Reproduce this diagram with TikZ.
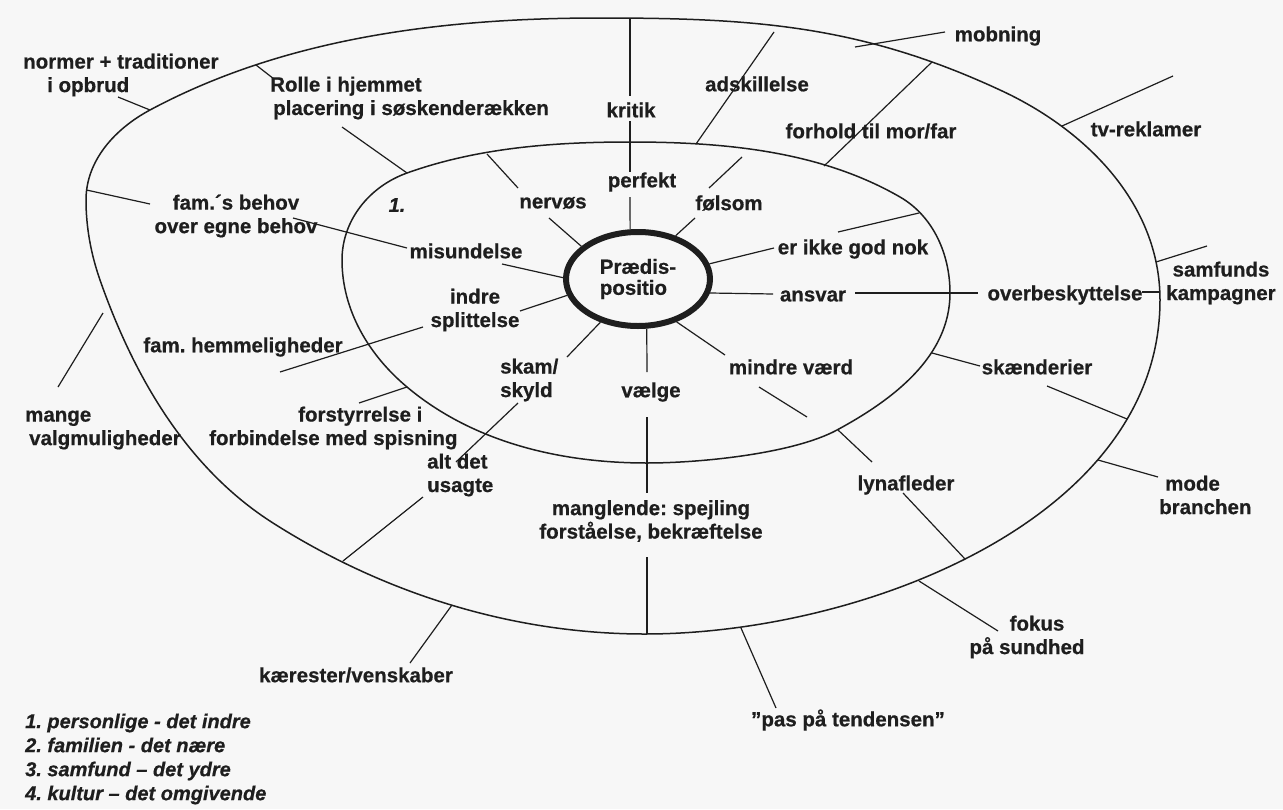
\documentclass[tikz,border=0pt]{standalone}
\usepackage{fontspec}
\setmainfont{Liberation Sans}[BoldFeatures={FakeBold=0.6},BoldItalicFeatures={FakeBold=0.6}]
\usetikzlibrary{shapes.geometric}
\definecolor{ink}{RGB}{30,30,30}
\definecolor{paper}{RGB}{247,247,247}
\begin{document}
\frenchspacing
\begin{tikzpicture}[x=1pt,y=-1pt,
  lbl/.style={font=\fontsize{20.5}{23.5}\selectfont\bfseries, text=ink, inner sep=0pt, align=center},
  lblL/.style={lbl, align=left, anchor=west},
  legend/.style={font=\fontsize{20}{24}\selectfont\bfseries\itshape, text=ink, inner sep=0pt, align=left, anchor=west},
  con/.style={draw=ink, line width=1.2pt},
  ring/.style={draw=ink, line width=1.5pt},
]
\fill[paper] (0,0) rectangle (1283,809);
\useasboundingbox (0,0) rectangle (1283,809);

% outer ring
\draw[ring] (600,18) .. controls (754,18) and (860.3,25.2) .. (1000,90)
  .. controls (1087,130) and (1160,204.5) .. (1160,300)
  .. controls (1160,520) and (860,634) .. (645,634)
  .. controls (513,634) and (384.4,593.8) .. (273,523)
  .. controls (186.9,468.3) and (133.8,376.3) .. (100,280)
  .. controls (91,254.2) and (86,227.3) .. (86,200)
  .. controls (86,160.4) and (115.1,128.7) .. (150,110)
  .. controls (286.4,36.9) and (445.2,18) .. (600,18) -- cycle;
% inner ring
\draw[ring] (630,142) .. controls (722.9,142) and (819.5,150.5) .. (900,197)
  .. controls (933.4,216.3) and (950,254.4) .. (950,293)
  .. controls (950,356.7) and (893,399.7) .. (837,430)
  .. controls (793,453.8) and (700,463) .. (647,463)
  .. controls (560.7,463) and (473.1,442.5) .. (407,387)
  .. controls (368.6,354.8) and (342,310.1) .. (342,260)
  .. controls (342,220.1) and (369.5,186.4) .. (407,173)
  .. controls (478,147.6) and (554.6,142) .. (630,142) -- cycle;

% centre
\node[ellipse, draw=ink, line width=6pt, minimum width=144pt, minimum height=94pt, inner sep=0pt,
      font=\fontsize{20.5}{21}\selectfont\bfseries, text=ink, align=left] (P) at (638,279) {Prædis-\\positio};

% labels
\node[lblL] (normer) at (23,75) {normer + traditioner\\\hspace*{24pt}i opbrud};
\node[lblL] (rolle) at (270,98) {Rolle i hjemmet\\\hspace*{3pt}placering i søskenderækken};
\node[lbl] (kritik) at (631,110) {kritik};
\node[lbl] (adsk) at (757,84) {adskillelse};
\node[lbl] (mobn) at (998,36) {mobning};
\node[lbl] (tvrek) at (1146,129) {tv-reklamer};
\node[lbl] (forhold) at (871,131) {forhold til mor/far};
\node[lbl] (behov) at (236,216) {fam.´s behov\\over egne behov};
\node[legend, anchor=center] (one) at (397,205) {1.};
\node[lbl] (nervos) at (553,203) {nervøs};
\node[lbl] (perfekt) at (642,182) {perfekt};
\node[lbl] (folsom) at (729,203) {følsom};
\node[lbl] (misund) at (466,251) {misundelse};
\node[lbl] (erikke) at (853,249) {er ikke god nok};
\node[lbl] (indre) at (475,310) {indre\\splittelse};
\node[lbl] (ansvar) at (813,296) {ansvar};
\node[lbl] (overb) at (1065,295) {overbeskyttelse};
\node[lbl] (samf) at (1221,283) {samfunds\\kampagner};
\node[lbl] (famhem) at (243,347) {fam. hemmeligheder};
\node[lblL] (skam) at (500,380) {skam/\\skyld};
\node[lbl] (vaelge) at (651,392) {vælge};
\node[lbl] (mindre) at (791,367) {mindre værd};
\node[lbl] (skaend) at (1037,367) {skænderier};
\node[lblL] (mange) at (25,430) {mange\\\hspace*{4pt}valgmuligheder};
\node[lblL] (forst) at (209,428) {\hspace*{89pt}forstyrrelse i\\forbindelse med spisning};
\node[lblL] (altdet) at (427,475) {alt det\\usagte};
\node[lbl] (mangl) at (651,521) {manglende: spejling\\forståelse, bekræftelse};
\node[lbl] (lyn) at (906,485) {lynafleder};
\node[lblL] (mode) at (1159,495) {\hspace*{6pt}mode\\branchen};
\node[lbl] (fokus) at (1027,637) {\hspace*{20pt}fokus\\på sundhed};
\node[lbl] (kaer) at (356,675) {kærester/venskaber};
\node[lbl] (pas) at (848,720) {”pas på tendensen”};
\node[legend] (leg) at (25,759) {1. personlige - det indre\\2. familien - det nære\\3. samfund – det ydre\\4. kultur – det omgivende};

% connector end points
\coordinate (a1) at (118,97);  \coordinate (a2) at (150,110);
\coordinate (b1) at (256,65);  \coordinate (b2) at (274,79);
\coordinate (c1) at (342,127); \coordinate (c2) at (407,173);
\coordinate (k1) at (630,18);  \coordinate (k2) at (630,96);
\coordinate (k3) at (630,121); \coordinate (k4) at (630,172);
\coordinate (k5) at (630,197);
\coordinate (d1) at (774,32);  \coordinate (d2) at (696,144);
\coordinate (e1) at (855,47);  \coordinate (e2) at (945,32);
\coordinate (f1) at (932,62);  \coordinate (f2) at (824,166);
\coordinate (g1) at (1062,126); \coordinate (g2) at (1173,76);
\coordinate (h1) at (86.5,190);  \coordinate (h2) at (150,204);
\coordinate (i1) at (293,218); \coordinate (i2) at (407,248);
\coordinate (j1) at (487,154); \coordinate (j2) at (518,188);
\coordinate (l1) at (549,218);
\coordinate (m1) at (742,157); \coordinate (m2) at (709,188);
\coordinate (n1) at (695,218);
\coordinate (o1) at (502,264);
\coordinate (q1) at (774,248);
\coordinate (r1) at (838,232); \coordinate (r2) at (919,213);
\coordinate (s1) at (773,294);
\coordinate (t1) at (855,293); \coordinate (t2) at (978,293);
\coordinate (u1) at (1142,292); \coordinate (u2) at (1160,292);
\coordinate (v1) at (1156,262); \coordinate (v2) at (1207,246);
\coordinate (w1) at (520,311);
\coordinate (x1) at (423,327); \coordinate (x2) at (280,372);
\coordinate (y1) at (567,357);
\coordinate (z1) at (518,403); \coordinate (z2) at (456,462);
\coordinate (aa1) at (423,497); \coordinate (aa2) at (343,561);
\coordinate (bb1) at (407,387); \coordinate (bb2) at (359,403);
\coordinate (cc1) at (103,313); \coordinate (cc2) at (58,387);
\coordinate (dd1) at (647,372);
\coordinate (dd2) at (647,417); \coordinate (dd3) at (647,493);
\coordinate (dd4) at (647,557); \coordinate (dd5) at (647,634);
\coordinate (ee1) at (725,355);
\coordinate (ff1) at (759,387); \coordinate (ff2) at (807,417);
\coordinate (gg1) at (932,353); \coordinate (gg2) at (980,366);
\coordinate (hh1) at (1047,386); \coordinate (hh2) at (1127,419);
\coordinate (ii1) at (838,430); \coordinate (ii2) at (872,462);
\coordinate (jj1) at (903,493); \coordinate (jj2) at (965,559);
\coordinate (kk1) at (1098,460); \coordinate (kk2) at (1158,477);
\coordinate (ll1) at (919,581); \coordinate (ll2) at (998,631);
\coordinate (mm1) at (741,628); \coordinate (mm2) at (776,708);
\coordinate (nn1) at (452,605); \coordinate (nn2) at (410,663);

% connectors
\draw[con] (a1) -- (a2);
\draw[con] (b1) -- (b2);
\draw[con] (c1) -- (c2);
\draw[con] (k1) -- (k2);
\draw[con] (k3) -- (k4);
\draw[con] (k5) -- (P.99);
\draw[con] (d1) -- (d2);
\draw[con] (e1) -- (e2);
\draw[con] (f1) -- (f2);
\draw[con] (g1) -- (g2);
\draw[con] (h1) -- (h2);
\draw[con] (i1) -- (i2);
\draw[con] (j1) -- (j2);
\draw[con] (l1) -- (P.150);
\draw[con] (m1) -- (m2);
\draw[con] (n1) -- (P.49);
\draw[con] (o1) -- (P.179);
\draw[con] (P.12) -- (q1);
\draw[con] (r1) -- (r2);
\draw[con] (P.-11.5) -- (s1);
\draw[con] (t1) -- (t2);
\draw[con] (u1) -- (u2);
\draw[con] (v1) -- (v2);
\draw[con] (w1) -- (P.193);
\draw[con] (x1) -- (x2);
\draw[con] (P.229.6) -- (y1);
\draw[con] (z1) -- (z2);
\draw[con] (aa1) -- (aa2);
\draw[con] (bb1) -- (bb2);
\draw[con] (cc1) -- (cc2);
\draw[con] (P.280) -- (dd1);
\draw[con] (dd2) -- (dd3);
\draw[con] (dd4) -- (dd5);
\draw[con] (P.312) -- (ee1);
\draw[con] (ff1) -- (ff2);
\draw[con] (gg1) -- (gg2);
\draw[con] (hh1) -- (hh2);
\draw[con] (ii1) -- (ii2);
\draw[con] (jj1) -- (jj2);
\draw[con] (kk1) -- (kk2);
\draw[con] (ll1) -- (ll2);
\draw[con] (mm1) -- (mm2);
\draw[con] (nn1) -- (nn2);
\end{tikzpicture}
\end{document}
